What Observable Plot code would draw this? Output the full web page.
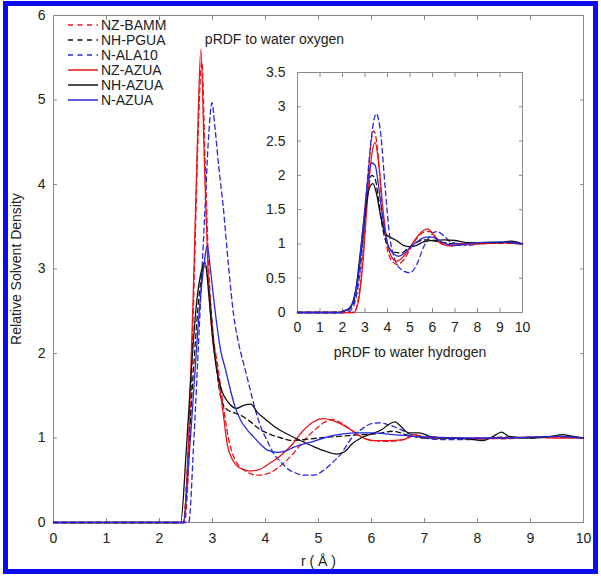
<!DOCTYPE html>
<html><head><meta charset="utf-8">
<script src="https://cdn.jsdelivr.net/npm/d3@7"></script>
<script src="https://cdn.jsdelivr.net/npm/@observablehq/plot@0.6"></script>
<style>
body{margin:0;background:#fff;}
#wrap{position:relative;width:601px;height:576px;overflow:hidden;font-family:"Liberation Sans",Arial,Helvetica,sans-serif;background:#fff;}
#border{position:absolute;left:3px;top:1px;width:595px;height:573px;border:5px solid #0c0cf0;box-sizing:border-box;pointer-events:none;}
#main,#inset,#legend{position:absolute;}
#main{left:0;top:0}
#inset{left:255px;top:25px}
#legend{left:68px;top:17.5px;font-size:14px;line-height:15px;color:#222}
.row{display:flex;align-items:center;height:15px;white-space:nowrap}
.row svg{width:30px;height:8px;margin-right:3px;flex:none}
</style></head><body>
<div id="wrap"><div id="main"></div><div id="inset"></div><div id="legend"></div><div id="border"></div></div>
<script>
const FONT = '"Liberation Sans", Arial, Helvetica, sans-serif';

// Series metadata
const seriesNames  = ["NZ-BAMM", "NH-PGUA", "N-ALA10", "NZ-AZUA", "NH-AZUA", "N-AZUA"];
const seriesColors = ["#e8161b", "#111111", "#2828dc", "#e8161b", "#111111", "#2828dc"];
const seriesDashed = [true, true, true, false, false, false];

// Tick labels
const xTicks = [0, 1, 2, 3, 4, 5, 6, 7, 8, 9, 10];
const yTicksMain = [0, 1, 2, 3, 4, 5, 6];
const yTicksInset = [0, 0.5, 1, 1.5, 2, 2.5, 3, 3.5];

// Texts
const mainXLabel = "r ( Å )";
const mainYLabel = "Relative Solvent Density";
const insetTitle = "pRDF to water oxygen";
const insetXLabel = "pRDF to water hydrogen";

// Main plot: [r, relative density]
const mainNZBAMM = [[0,0],[2.47,0],[2.57,1.0],[2.66,3.0],[2.73,4.6],[2.8,5.45],[2.86,4.3],[2.93,3.0],[3.0,2.3],[3.1,1.85],[3.2,1.4],[3.3,1.0],[3.42,0.75],[3.6,0.62],[3.85,0.56],[4.05,0.58],[4.3,0.68],[4.5,0.8],[4.7,0.95],[4.9,1.08],[5.1,1.18],[5.25,1.22],[5.45,1.17],[5.65,1.08],[5.85,1.0],[6.05,0.97],[6.3,0.96],[6.6,0.98],[6.85,1.03],[7.05,1.0],[7.5,1.0],[8.0,1.0],[8.5,0.99],[9.0,1.01],[9.5,1.01],[10,1.0]];
const mainNHPGUA = [[0,0],[2.45,0],[2.55,0.9],[2.65,1.9],[2.75,2.7],[2.86,3.05],[2.93,2.8],[3.0,2.3],[3.08,1.8],[3.15,1.5],[3.25,1.35],[3.4,1.3],[3.53,1.27],[3.7,1.2],[3.9,1.1],[4.1,1.04],[4.3,1.0],[4.5,0.97],[4.7,0.98],[5.0,1.0],[5.4,1.02],[5.8,1.04],[6.1,1.05],[6.4,1.08],[6.7,1.03],[7.0,1.0],[7.5,1.0],[8.0,0.99],[8.5,1.01],[9.0,1.0],[9.5,1.02],[10,1.0]];
const mainNALA10 = [[0,0],[2.55,0],[2.65,1.0],[2.75,2.3],[2.85,3.6],[2.93,4.6],[2.99,4.97],[3.05,4.65],[3.12,4.2],[3.2,3.75],[3.3,3.05],[3.4,2.45],[3.5,2.1],[3.6,1.85],[3.7,1.6],[3.8,1.35],[3.9,1.15],[4.03,0.97],[4.16,0.81],[4.3,0.71],[4.41,0.64],[4.55,0.59],[4.72,0.56],[4.9,0.56],[5.1,0.62],[5.25,0.7],[5.42,0.81],[5.64,1.01],[5.85,1.12],[6.0,1.17],[6.15,1.18],[6.35,1.15],[6.55,1.1],[6.75,1.04],[7.0,1.0],[7.4,0.98],[7.8,0.98],[8.2,1.0],[8.6,1.0],[9.0,1.01],[9.5,1.02],[10,1.0]];
const mainNZAZUA = [[0,0],[2.45,0],[2.55,1.0],[2.65,3.0],[2.72,4.6],[2.78,5.6],[2.85,4.2],[2.92,2.9],[3.0,2.2],[3.1,1.75],[3.2,1.3],[3.28,0.92],[3.38,0.74],[3.5,0.65],[3.68,0.61],[3.85,0.62],[4.1,0.71],[4.3,0.8],[4.5,0.92],[4.7,1.08],[4.9,1.19],[5.1,1.23],[5.3,1.2],[5.5,1.14],[5.7,1.06],[5.85,1.0],[6.0,0.97],[6.3,0.97],[6.6,0.98],[6.8,1.04],[7.0,1.01],[7.5,1.0],[8.0,0.99],[8.5,1.0],[9.0,1.01],[9.5,1.0],[10,1.0]];
const mainNHAZUA = [[0,0],[2.4,0],[2.5,0.8],[2.6,1.8],[2.7,2.6],[2.8,3.0],[2.86,3.08],[2.93,2.7],[3.0,2.2],[3.08,1.8],[3.18,1.55],[3.3,1.42],[3.45,1.35],[3.6,1.39],[3.72,1.4],[3.85,1.3],[4.0,1.22],[4.16,1.14],[4.4,1.05],[4.66,0.97],[4.9,0.9],[5.1,0.85],[5.35,0.81],[5.5,0.84],[5.63,0.93],[5.8,1.0],[6.0,1.05],[6.2,1.1],[6.32,1.16],[6.45,1.19],[6.55,1.14],[6.7,1.06],[6.9,1.06],[7.1,1.02],[7.4,1.0],[7.8,0.99],[8.1,0.97],[8.3,1.02],[8.45,1.07],[8.6,1.02],[9.0,1.0],[9.4,1.02],[9.6,1.04],[9.8,1.02],[10,1.0]];
const mainNAZUA = [[0,0],[2.45,0],[2.55,0.7],[2.65,1.6],[2.75,2.5],[2.85,3.1],[2.9,3.28],[2.96,3.0],[3.05,2.5],[3.15,2.05],[3.25,1.8],[3.31,1.64],[3.42,1.38],[3.53,1.21],[3.65,1.1],[3.78,1.01],[3.9,0.93],[4.03,0.86],[4.22,0.83],[4.4,0.85],[4.53,0.89],[4.85,0.95],[5.1,1.0],[5.29,1.03],[5.7,1.06],[6.0,1.06],[6.4,1.04],[6.8,1.02],[7.2,1.01],[7.6,1.0],[8.0,1.0],[8.5,1.0],[9.0,1.01],[9.5,1.02],[10,1.0]];

// Inset: pRDF to water hydrogen
const insetNZBAMM = [[0,0],[2.5,0],[2.7,0.2],[2.9,0.8],[3.1,1.8],[3.3,2.55],[3.4,2.65],[3.55,2.4],[3.75,1.6],[3.95,1.0],[4.2,0.75],[4.45,0.7],[4.7,0.76],[5.0,0.92],[5.3,1.08],[5.6,1.17],[5.9,1.18],[6.2,1.08],[6.5,0.99],[6.8,0.98],[7.2,0.98],[7.6,0.99],[8,1.0],[9,1.01],[10,1.0]];
const insetNHPGUA = [[0,0],[2.0,0],[2.3,0.05],[2.5,0.15],[2.7,0.5],[2.9,1.1],[3.1,1.7],[3.3,2.0],[3.45,1.95],[3.6,1.65],[3.8,1.2],[4.0,0.98],[4.3,0.88],[4.6,0.87],[4.9,0.93],[5.2,1.0],[5.5,1.05],[5.8,1.06],[6.1,1.04],[6.5,1.02],[7,1.0],[8,1.02],[9,1.02],[10,1.0]];
const insetNALA10 = [[0,0],[2.2,0],[2.5,0.1],[2.7,0.4],[2.9,1.0],[3.1,1.9],[3.3,2.6],[3.5,2.9],[3.7,2.6],[3.9,1.8],[4.1,1.1],[4.3,0.8],[4.6,0.63],[5.0,0.58],[5.3,0.7],[5.6,0.95],[5.9,1.12],[6.2,1.18],[6.5,1.12],[6.8,1.03],[7.2,1.0],[7.6,0.98],[8,1.0],[8.5,1.02],[9,1.02],[9.5,1.03],[10,1.0]];
const insetNZAZUA = [[0,0],[2.5,0],[2.7,0.15],[2.9,0.7],[3.1,1.6],[3.3,2.3],[3.45,2.48],[3.6,2.2],[3.8,1.5],[4.0,1.0],[4.2,0.8],[4.4,0.75],[4.6,0.78],[4.9,0.9],[5.2,1.05],[5.5,1.17],[5.8,1.22],[6.0,1.15],[6.3,1.02],[6.6,0.98],[6.9,0.97],[7.2,1.0],[8,1.0],[9,1.02],[10,1.0]];
const insetNHAZUA = [[0,0],[1.9,0],[2.0,0.02],[2.2,0.04],[2.4,0.1],[2.6,0.35],[2.8,0.9],[3.0,1.45],[3.2,1.82],[3.35,1.88],[3.5,1.75],[3.7,1.4],[3.9,1.15],[4.1,1.1],[4.4,1.05],[4.7,0.98],[5.0,0.96],[5.3,0.98],[5.6,1.03],[6.0,1.05],[6.5,1.06],[7.0,1.05],[7.5,1.02],[8,1.02],[9,1.02],[9.5,1.04],[10,1.0]];
const insetNAZUA = [[0,0],[1.9,0],[2.1,0.03],[2.3,0.06],[2.5,0.2],[2.7,0.55],[2.9,1.2],[3.1,1.85],[3.3,2.18],[3.45,2.15],[3.6,1.85],[3.8,1.35],[4.0,1.0],[4.2,0.88],[4.5,0.82],[4.8,0.88],[5.1,0.98],[5.4,1.05],[5.7,1.1],[6.0,1.1],[6.3,1.05],[6.6,1.0],[7,0.98],[7.5,1.0],[8,1.02],[9,1.03],[10,1.0]];

const mainSeries = [mainNZBAMM, mainNHPGUA, mainNALA10, mainNZAZUA, mainNHAZUA, mainNAZUA];
const insetSeries = [insetNZBAMM, insetNHPGUA, insetNALA10, insetNZAZUA, insetNHAZUA, insetNAZUA];

const AXIS = "#8a8a8a", TEXT = "#222";
const fmt = d => String(d);

function lineMarks(seriesList) {
  return seriesList.map((data, i) => Plot.line(data, {
    x: d => d[0], y: d => d[1],
    stroke: seriesColors[i],
    strokeWidth: 1.3,
    strokeDasharray: seriesDashed[i] ? "5,3.5" : null,
    curve: "monotone-x"
  }));
}

const mainPlot = Plot.plot({
  width: 601, height: 576,
  marginLeft: 53, marginRight: 18, marginTop: 15, marginBottom: 54,
  style: {fontFamily: FONT, fontSize: "14px", background: "transparent", color: TEXT, overflow: "visible"},
  x: {domain: [0, 10]},
  y: {domain: [0, 6]},
  marks: [
    Plot.frame({stroke: AXIS}),
    Plot.axisX(xTicks, {anchor: "bottom", tickSize: -4, tickPadding: 15, stroke: AXIS, fill: TEXT, tickFormat: fmt,
      label: mainXLabel, labelAnchor: "center", labelOffset: 43, labelArrow: "none"}),
    Plot.axisX(xTicks, {anchor: "top", tickSize: -4, stroke: AXIS, fill: "none", label: null}),
    Plot.axisY(yTicksMain, {anchor: "left", tickSize: -4, tickPadding: 12, stroke: AXIS, fill: TEXT, tickFormat: fmt,
      label: mainYLabel, labelAnchor: "center", labelOffset: 42, labelArrow: "none"}),
    Plot.axisY(yTicksMain, {anchor: "right", tickSize: -4, stroke: AXIS, fill: "none", label: null}),
    ...lineMarks(mainSeries)
  ]
});
document.getElementById("main").append(mainPlot);

const insetPlot = Plot.plot({
  width: 290, height: 345,
  marginLeft: 42, marginRight: 23, marginTop: 47, marginBottom: 58,
  style: {fontFamily: FONT, fontSize: "14px", background: "transparent", color: TEXT, overflow: "visible"},
  x: {domain: [0, 10]},
  y: {domain: [0, 3.5]},
  marks: [
    Plot.frame({stroke: AXIS}),
    Plot.axisX(xTicks, {anchor: "bottom", tickSize: -4, tickPadding: 14, stroke: AXIS, fill: TEXT, tickFormat: fmt,
      label: insetXLabel, labelAnchor: "center", labelOffset: 44, labelArrow: "none"}),
    Plot.axisX(xTicks, {anchor: "top", tickSize: -4, stroke: AXIS, fill: "none", label: null}),
    Plot.axisY(yTicksInset, {anchor: "left", tickSize: -4, tickPadding: 16, stroke: AXIS, fill: TEXT, label: null,
      tickFormat: fmt}),
    Plot.axisY(yTicksInset, {anchor: "right", tickSize: -4, stroke: AXIS, fill: "none", label: null}),
    ...lineMarks(insetSeries),
    Plot.text([insetTitle], {text: d => d, frameAnchor: "top-left", dx: -23, dy: -33,
      textAnchor: "middle", lineAnchor: "middle", fontSize: 14, fill: TEXT})
  ]
});
document.getElementById("inset").append(insetPlot);

// Legend
const legend = d3.select("#legend");
seriesNames.forEach((name, i) => {
  const row = legend.append("div").attr("class", "row");
  const svg = row.append("svg").attr("viewBox", "0 0 30 8");
  svg.append("line").attr("x1", 0).attr("x2", 30).attr("y1", 4).attr("y2", 4)
    .attr("stroke", seriesColors[i]).attr("stroke-width", 1.5)
    .attr("stroke-dasharray", seriesDashed[i] ? "5,4.5" : null);
  row.append("span").text(name);
});
</script></body></html>
